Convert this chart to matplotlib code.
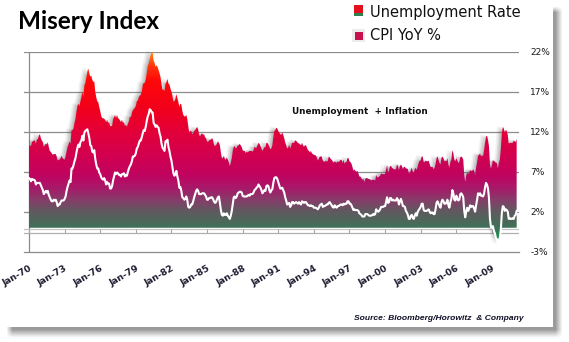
import numpy as np
import matplotlib
matplotlib.use("Agg")
import matplotlib.pyplot as plt
from matplotlib.colors import LinearSegmentedColormap
from matplotlib.patches import Rectangle
from matplotlib.transforms import ScaledTranslation

# ---------------- data (monthly, Jan-1970 .. Feb-2011) ----------------
unemployment_rate = [
    3.9,4.2,4.4,4.6,4.8,4.9,5.0,5.1,5.4,5.5,5.9,6.1,
    5.9,5.9,6.0,5.9,5.9,5.9,6.0,6.1,6.0,5.8,6.0,6.0,
    5.8,5.7,5.8,5.7,5.7,5.7,5.6,5.6,5.5,5.6,5.3,5.2,
    4.9,5.0,4.9,5.0,4.9,4.9,4.8,4.8,4.8,4.6,4.8,4.9,
    5.1,5.2,5.1,5.1,5.1,5.4,5.5,5.5,5.9,6.0,6.6,7.2,
    8.1,8.1,8.6,8.8,9.0,8.8,8.6,8.4,8.4,8.4,8.3,8.2,
    7.9,7.7,7.6,7.7,7.4,7.6,7.8,7.8,7.6,7.7,7.8,7.8,
    7.5,7.6,7.4,7.2,7.0,7.2,6.9,7.0,6.8,6.8,6.8,6.4,
    6.4,6.3,6.3,6.1,6.0,5.9,6.2,5.9,6.0,5.8,5.9,6.0,
    5.9,5.9,5.8,5.8,5.6,5.7,5.7,6.0,5.9,6.0,5.9,6.0,
    6.3,6.3,6.3,6.9,7.5,7.6,7.8,7.7,7.5,7.5,7.5,7.2,
    7.5,7.4,7.4,7.2,7.5,7.5,7.2,7.4,7.6,7.9,8.3,8.5,
    8.6,8.9,9.0,9.3,9.4,9.6,9.8,9.8,10.1,10.4,10.8,10.8,
    10.4,10.4,10.3,10.2,10.1,10.1,9.4,9.5,9.2,8.8,8.5,8.3,
    8.0,7.8,7.8,7.7,7.4,7.2,7.5,7.5,7.3,7.4,7.2,7.3,
    7.3,7.2,7.2,7.3,7.2,7.4,7.4,7.1,7.1,7.1,7.0,7.0,
    6.7,7.2,7.2,7.1,7.2,7.2,7.0,6.9,7.0,7.0,6.9,6.6,
    6.6,6.6,6.6,6.3,6.3,6.2,6.1,6.0,5.9,6.0,5.8,5.7,
    5.7,5.7,5.7,5.4,5.6,5.4,5.4,5.6,5.4,5.4,5.3,5.3,
    5.4,5.2,5.0,5.2,5.2,5.3,5.2,5.2,5.3,5.3,5.4,5.4,
    5.4,5.3,5.2,5.4,5.4,5.2,5.5,5.7,5.9,5.9,6.2,6.3,
    6.4,6.6,6.8,6.7,6.9,6.9,6.8,6.9,6.9,7.0,7.0,7.3,
    7.3,7.4,7.4,7.4,7.6,7.8,7.7,7.6,7.6,7.3,7.4,7.4,
    7.3,7.1,7.0,7.1,7.1,7.0,6.9,6.8,6.7,6.8,6.6,6.5,
    6.6,6.6,6.5,6.4,6.1,6.1,6.1,6.0,5.9,5.8,5.6,5.5,
    5.6,5.4,5.4,5.8,5.6,5.6,5.7,5.7,5.6,5.5,5.6,5.6,
    5.6,5.5,5.5,5.6,5.6,5.3,5.5,5.1,5.2,5.2,5.4,5.4,
    5.3,5.2,5.2,5.1,4.9,5.0,4.9,4.8,4.9,4.7,4.6,4.7,
    4.6,4.6,4.7,4.3,4.4,4.5,4.5,4.5,4.6,4.5,4.4,4.4,
    4.3,4.4,4.2,4.3,4.2,4.3,4.3,4.2,4.2,4.1,4.1,4.0,
    4.0,4.1,4.0,3.8,4.0,4.0,4.0,4.1,3.9,3.9,3.9,3.9,
    4.2,4.2,4.3,4.4,4.3,4.5,4.6,4.9,5.0,5.3,5.5,5.7,
    5.7,5.7,5.7,5.9,5.8,5.8,5.8,5.7,5.7,5.7,5.9,6.0,
    5.8,5.9,5.9,6.0,6.1,6.3,6.2,6.1,6.1,6.0,5.8,5.7,
    5.7,5.6,5.8,5.6,5.6,5.6,5.5,5.4,5.4,5.5,5.4,5.4,
    5.3,5.4,5.2,5.2,5.1,5.0,5.0,4.9,5.0,5.0,5.0,4.9,
    4.7,4.8,4.7,4.7,4.6,4.6,4.7,4.7,4.5,4.4,4.5,4.4,
    4.6,4.5,4.4,4.5,4.4,4.6,4.7,4.6,4.7,4.7,4.7,5.0,
    5.0,4.9,5.1,5.0,5.4,5.6,5.8,6.1,6.1,6.5,6.8,7.3,
    7.8,8.3,8.7,9.0,9.4,9.5,9.5,9.6,9.8,10.0,9.9,9.9,
    9.8,9.8,9.9,9.9,9.6,9.4,9.4,9.5,9.5,9.4,9.8,9.3,
    9.1,9.0,
]
cpi_yoy = [
    6.2,6.1,5.8,6.1,6.0,6.0,5.9,5.4,5.6,5.6,5.6,5.6,
    5.3,5.0,4.7,4.2,4.4,4.6,4.4,4.6,4.1,3.8,3.5,3.3,
    3.3,3.5,3.4,3.5,3.2,2.7,2.9,2.9,3.2,3.4,3.4,3.4,
    3.6,3.9,4.6,5.1,5.5,5.9,5.7,7.4,7.4,7.8,8.3,8.7,
    9.4,10.0,10.4,10.1,10.7,10.9,11.5,10.9,11.9,12.1,12.2,12.3,
    11.8,11.2,10.3,10.2,9.5,9.4,9.7,8.6,7.9,7.4,7.4,6.9,
    6.7,6.3,6.1,6.0,6.2,5.9,5.4,5.7,5.5,5.5,4.9,4.9,
    5.2,5.9,6.4,6.9,6.7,6.9,6.8,6.6,6.6,6.4,6.7,6.7,
    6.8,6.4,6.6,6.5,7.0,7.4,7.7,7.9,8.3,8.9,8.9,9.0,
    9.3,9.9,10.1,10.5,10.9,10.9,11.3,11.8,12.2,12.1,12.6,13.3,
    13.9,14.2,14.8,14.7,14.4,14.4,13.1,12.9,12.6,12.8,12.6,12.5,
    11.8,11.4,10.5,10.0,9.8,9.6,10.8,10.8,11.0,10.1,9.6,8.9,
    8.4,7.6,6.8,6.5,6.7,7.1,6.4,5.9,5.0,5.1,4.6,3.8,
    3.7,3.5,3.6,3.9,3.5,2.6,2.5,2.6,2.9,2.9,3.3,3.8,
    4.2,4.6,4.8,4.6,4.2,4.2,4.2,4.3,4.3,4.3,4.1,3.9,
    3.5,3.5,3.7,3.7,3.8,3.8,3.6,3.3,3.1,3.2,3.5,3.8,
    3.9,3.1,2.2,1.6,1.5,1.8,1.6,1.6,1.8,1.5,1.3,1.1,
    1.5,2.1,3.0,3.8,3.9,3.7,3.9,4.3,4.4,4.5,4.5,4.4,
    4.0,3.9,3.9,3.9,3.9,4.0,4.1,4.0,4.2,4.2,4.2,4.4,
    4.7,4.8,5.0,5.1,5.4,5.2,5.0,4.7,4.3,4.5,4.7,4.6,
    5.2,5.3,5.2,4.7,4.4,4.7,4.8,5.6,6.2,6.3,6.3,6.1,
    5.7,5.3,4.9,4.9,5.0,4.7,4.4,3.8,3.4,2.9,3.0,3.1,
    2.6,2.8,3.2,3.2,3.0,3.1,3.2,3.1,3.0,3.2,3.0,2.9,
    3.3,3.2,3.1,3.2,3.2,3.0,2.8,2.8,2.7,2.8,2.7,2.7,
    2.5,2.5,2.5,2.4,2.3,2.5,2.8,2.9,3.0,2.6,2.7,2.7,
    2.8,2.9,2.9,3.1,3.2,3.0,2.8,2.6,2.5,2.8,2.6,2.5,
    2.7,2.7,2.8,2.9,2.9,2.8,3.0,2.9,3.0,3.0,3.3,3.3,
    3.0,3.0,2.8,2.5,2.2,2.3,2.2,2.2,2.2,2.1,1.8,1.7,
    1.6,1.4,1.4,1.4,1.7,1.7,1.7,1.6,1.5,1.5,1.5,1.6,
    1.7,1.6,1.7,2.3,2.1,2.0,2.1,2.3,2.6,2.6,2.6,2.7,
    2.7,3.2,3.8,3.1,3.2,3.7,3.7,3.4,3.5,3.4,3.4,3.4,
    3.7,3.5,2.9,3.3,3.6,3.2,2.7,2.7,2.6,2.1,1.9,1.6,
    1.1,1.1,1.5,1.6,1.2,1.1,1.5,1.8,1.5,2.0,2.2,2.4,
    2.6,3.0,3.0,2.2,2.1,2.1,2.1,2.2,2.3,2.0,1.8,1.9,
    1.9,1.7,1.7,2.3,3.1,3.3,3.0,2.7,2.5,3.2,3.5,3.3,
    3.0,3.0,3.1,3.5,2.8,2.5,3.2,3.6,4.7,4.3,3.5,3.4,
    4.0,3.6,3.4,3.5,4.2,4.3,4.1,3.8,2.1,1.3,2.0,2.5,
    2.1,2.4,2.8,2.6,2.7,2.7,2.4,2.0,2.8,3.5,4.3,4.1,
    4.3,4.0,4.0,3.9,4.2,5.0,5.6,5.4,4.9,3.7,1.1,0.1,
    0.0,0.2,-0.4,-0.7,-1.3,-1.4,-2.1,-1.5,-1.3,-0.2,1.8,2.7,
    2.6,2.1,2.3,2.2,2.0,1.1,1.2,1.1,1.1,1.2,1.1,1.5,
    1.6,2.1,
]
start_year = 1970
tick_years = [1970, 1973, 1976, 1979, 1982, 1985, 1988, 1991, 1994, 1997, 2000, 2003, 2006, 2009]
tick_labels = ["Jan-70", "Jan-73", "Jan-76", "Jan-79", "Jan-82", "Jan-85", "Jan-88",
               "Jan-91", "Jan-94", "Jan-97", "Jan-00", "Jan-03", "Jan-06", "Jan-09"]
y_ticks = [-3, 2, 7, 12, 17, 22]
y_labels = ["-3%", "2%", "7%", "12%", "17%", "22%"]

# ---------------- figure ----------------
W, H = 569, 342
fig = plt.figure(figsize=(W / 100, H / 100), dpi=100)
fig.patch.set_facecolor("white")

# card drop shadow (pixel image)
yy, xx = np.mgrid[0:H, 0:W]
fx = np.clip((xx - 6) / 6.0, 0, 1) * np.clip((562 - xx) / 7.0, 0, 1)
fy = np.clip((yy - 6) / 6.0, 0, 1) * np.clip((337 - yy) / 8.0, 0, 1)
alpha = fx * fy * 0.6
alpha[(xx < 553) & (yy < 327)] = 0
sh = np.zeros((H, W, 4))
sh[..., :3] = 0.35
sh[..., 3] = alpha
fig.figimage(sh, xo=0, yo=0, origin="upper", zorder=0)

ax = fig.add_axes([24 / W, 1 - 251.7 / H, (519 - 24) / W, 200 / H])
ax.patch.set_alpha(0)

u = np.array(unemployment_rate)
c = np.array(cpi_yoy)
x = start_year + np.arange(len(u)) / 12.0
total = u + c
lower = np.minimum(c, 0)

x0, x1 = 1969.58, 2011.28
y0, y1 = -3, 22

# gridlines
for v in y_ticks[1:]:
    ax.axhline(v, color="#8c8c8c", lw=0.9, zorder=0.5)
ax.axvline(start_year, color="#8c8c8c", lw=0.9, zorder=0.5)

# zero (category) axis band with ticks
ax.axhline(-0.1, color="#c4c4c4", lw=0.9, zorder=1)
ax.axhline(-0.6, color="#b0b0b0", lw=0.9, zorder=1)
ax.vlines(tick_years + [2012], -0.6, -0.1, color="#a8a8a8", lw=0.8, zorder=1)

clip = Rectangle((start_year, -10), 60, 50, transform=ax.transData)

# soft shadow of the area (mostly to the left)
for k, a in [(1.5, 0.16), (3, 0.14), (4.5, 0.11), (6, 0.08)]:
    p = ax.fill_between(x, lower, total, color="#505050", alpha=a, lw=0, zorder=1.5)
    p.set_transform(ax.transData + ScaledTranslation(-k / 100, k * 0.3 / 100, fig.dpi_scale_trans))
    p.set_clip_path(clip)

# gradient area
stops = [(-3, "#0fa552"), (-1.5, "#179a55"), (-0.2, "#3b7358"), (0.8, "#4d6859"),
         (2.0, "#5f5a60"), (3.5, "#873c69"), (5.0, "#a8196a"), (6.5, "#bf0460"),
         (9.0, "#d20050"), (12.0, "#e2003a"), (15.0, "#f2001c"), (18.5, "#ff080a"),
         (20.5, "#ff3a0c"), (22.0, "#ff8a1e")]
cmap = LinearSegmentedColormap.from_list(
    "misery", [((v - y0) / (y1 - y0), col) for v, col in stops])
poly = ax.fill_between(x, lower, total, facecolor="none", lw=0, zorder=2)
grad = np.linspace(y0, y1, 400).reshape(-1, 1)
im = ax.imshow(grad, extent=[x0, x1, y0, y1], origin="lower", aspect="auto",
               cmap=cmap, vmin=y0, vmax=y1, interpolation="bilinear", zorder=2)
im.set_clip_path(poly.get_paths()[0], transform=ax.transData)

# CPI line
ax.plot(x, c, color="white", lw=1.5, zorder=3, solid_joinstyle="round")

ax.set_xlim(x0, x1)
ax.set_ylim(y0, y1)

for s in ["top", "left", "right"]:
    ax.spines[s].set_visible(False)
ax.spines["bottom"].set_color("#8c8c8c")
ax.spines["bottom"].set_linewidth(0.9)

ax.set_xticks(tick_years)
ax.set_xticklabels(tick_labels, rotation=30, ha="right", rotation_mode="anchor",
                   fontsize=6.6, fontweight="bold", color="#1c1c30", family="DejaVu Sans")
ax.tick_params(axis="x", length=0, pad=9)

ax.yaxis.tick_right()
ax.set_yticks(y_ticks)
ax.set_yticklabels(y_labels, fontsize=6.5, color="#1a1a1a")
ax.tick_params(axis="y", length=0, pad=8)

# ---------------- texts ----------------
fig.text(18 / W, 1 - 29 / H, "Misery Index", fontsize=17.5, fontweight="bold",
         family="Lato", va="baseline", ha="left", color="black")

# legend
fig.add_artist(Rectangle((354 / W, 1 - 16.3 / H), 9 / W, 3 / H, transform=fig.transFigure,
                         facecolor="#2f8050", edgecolor="none"))
fig.add_artist(Rectangle((354 / W, 1 - 13.3 / H), 9 / W, 8 / H, transform=fig.transFigure,
                         facecolor="#e4101e", edgecolor="none"))
fig.add_artist(Rectangle((352 / W, 1 - 42 / H), 13 / W, 13 / H, transform=fig.transFigure,
                         facecolor="#ececec", edgecolor="none"))
fig.add_artist(Rectangle((354.5 / W, 1 - 39.5 / H), 8 / W, 8 / H, transform=fig.transFigure,
                         facecolor="#c8104e", edgecolor="none"))
fig.text(370 / W, 1 - 16.5 / H, "Unemployment Rate", fontsize=10.5, va="baseline",
         ha="left", color="#101010")
fig.text(370 / W, 1 - 40 / H, "CPI YoY %", fontsize=10.5, va="baseline",
         ha="left", color="#101010")

fig.text(292.5 / W, 1 - 112 / H, "Unemployment  + Inflation", fontsize=6.4, fontweight="bold",
         family="DejaVu Sans", va="center", ha="left", color="#101010")
fig.text(354 / W, 1 - 318 / H, "Source: Bloomberg/Horowitz  & Company", fontsize=6.1,
         fontweight="bold", fontstyle="italic", family="Liberation Sans",
         va="center", ha="left", color="#101028")

fig.savefig("out.png", dpi=100, facecolor="white")
